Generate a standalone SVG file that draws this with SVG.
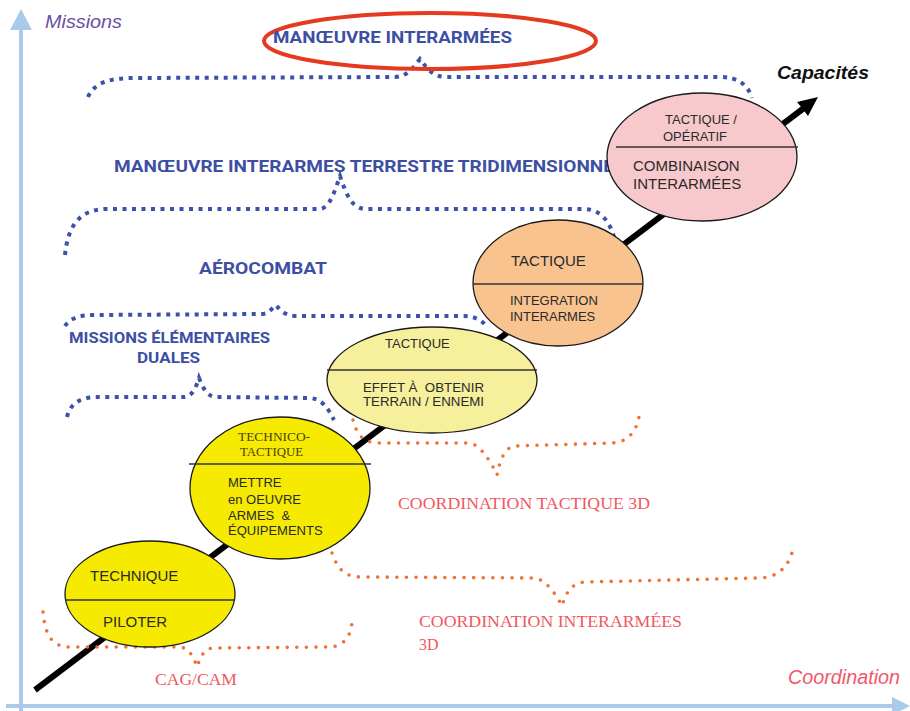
<svg xmlns="http://www.w3.org/2000/svg" width="910" height="711" viewBox="0 0 910 711">
<defs>
<style>
.axis{stroke:#a9cbe9;stroke-width:4;fill:none}
.axhead{fill:#a9cbe9}
.bdot{fill:none;stroke:#3a52a8;stroke-width:4;stroke-dasharray:4 5.5}
.odot{fill:none;stroke:#f07033;stroke-width:3.6;stroke-dasharray:0 9.6;stroke-linecap:round}
.ell{stroke:#1a1a1a;stroke-width:1.3}
.div{stroke:#333;stroke-width:1.5}
.blue{font-family:Roboto,"Liberation Sans",sans-serif;font-weight:bold;fill:#3d4fa3}
.red{font-family:"Liberation Serif",serif;fill:#f0585e}
.in{font-family:"Liberation Sans",Arial,sans-serif;fill:#2a2a2a}
</style>
</defs>
<rect width="910" height="711" fill="#ffffff"/>
<g id="connectors">
  <line class="axis" x1="21" y1="28" x2="21" y2="711"/>
  <polygon class="axhead" points="21,9 10,30 32,30"/>
  <line class="axis" x1="6" y1="706" x2="895" y2="706"/>
  <polygon class="axhead" points="910,706 892,697 892,715"/>
  <line x1="35" y1="690" x2="804" y2="108" stroke="#000" stroke-width="6"/>
  <polygon points="818,97 797,102 802,108 808,116" fill="#000"/>
</g>
<g id="braces">
  <path class="bdot" d="M88 97 C95 82 110 78 135 78 L395 77 C408 76 413 68 420 59 C427 68 432 76 445 77 L720 77 C738 77 748 85 752 98"/>
  <path class="bdot" d="M65 255 C68 225 80 210 105 209 L320 209 C330 208 335 190 340 176 C345 190 350 208 365 209 L585 209 C605 210 614 228 618 255"/>
  <path class="bdot" d="M65 326 C70 318 80 315 95 315 L262 314 C270 313 272 308 276 305 C280 310 284 315 295 316 L462 316 C475 316 482 320 488 328"/>
  <path class="bdot" d="M67 417 C70 405 78 398 95 397 L185 397 C192 396 196 388 199 378 C203 388 207 396 215 397 L310 398 C322 399 328 408 334 420"/>
  <path class="odot" d="M43 612 C45 635 52 647 70 647 L180 647 C188 648 193 655 197 667 C201 655 205 648 214 648 L330 647 C345 646 351 635 352 622"/>
  <path class="odot" d="M332 553 C338 570 345 577 362 577 L535 578 C545 580 555 592 562 606 C566 592 572 583 585 582 L760 578 C780 577 790 565 794 545"/>
  <path class="odot" d="M353 420 C356 432 362 443 378 443 L470 443 C480 445 490 460 497 475 C500 460 505 447 515 446 L612 443 C628 442 636 432 639 417"/>
</g>
<g id="axis-labels">
  <text x="45" y="28" font-family="'Liberation Sans',Arial,sans-serif" font-style="italic" font-size="19" fill="#6a4fa0" textLength="77" lengthAdjust="spacingAndGlyphs">Missions</text>
  <text x="777" y="79" font-family="'Liberation Sans',Arial,sans-serif" font-style="italic" font-weight="bold" font-size="19" fill="#111" textLength="92" lengthAdjust="spacingAndGlyphs">Capacités</text>
  <text x="788" y="684" font-family="'Liberation Sans',Arial,sans-serif" font-style="italic" font-size="19.5" fill="#f0586a" textLength="112" lengthAdjust="spacingAndGlyphs">Coordination</text>
</g>
<g id="mission-labels">
  <g id="m-interarmees">
    <ellipse cx="430" cy="41" rx="166" ry="28" fill="none" stroke="#e53a1f" stroke-width="4"/>
    <text class="blue" x="273" y="43" font-size="17" textLength="239" lengthAdjust="spacingAndGlyphs">MANŒUVRE INTERARMÉES</text>
  </g>
  <text id="m-terrestre" class="blue" x="114" y="172" font-size="17" textLength="500" lengthAdjust="spacingAndGlyphs">MANŒUVRE INTERARMES TERRESTRE TRIDIMENSIONNE</text>
  <text id="m-aerocombat" class="blue" x="199" y="274" font-size="17" textLength="128" lengthAdjust="spacingAndGlyphs">AÉROCOMBAT</text>
  <g id="m-elementaires">
    <text class="blue" x="69" y="343" font-size="15" textLength="201" lengthAdjust="spacingAndGlyphs">MISSIONS ÉLÉMENTAIRES</text>
    <text class="blue" x="137" y="363" font-size="15" textLength="63" lengthAdjust="spacingAndGlyphs">DUALES</text>
  </g>
</g>
<g id="coord-labels">
  <text id="c-cagcam" class="red" x="155" y="685" font-size="16" textLength="82" lengthAdjust="spacingAndGlyphs">CAG/CAM</text>
  <g id="c-interarmees">
    <text class="red" x="419" y="627" font-size="16" textLength="263" lengthAdjust="spacingAndGlyphs">COORDINATION INTERARMÉES</text>
    <text class="red" x="419" y="650" font-size="16">3D</text>
  </g>
  <text id="c-tactique" class="red" x="398" y="509" font-size="16" textLength="252" lengthAdjust="spacingAndGlyphs">COORDINATION TACTIQUE 3D</text>
</g>
<g id="n1">
  <ellipse class="ell" cx="150" cy="594" rx="85" ry="53" fill="#f5ea00"/>
  <line class="div" x1="65" y1="600" x2="235" y2="600"/>
  <text class="in" x="90" y="581" font-size="15">TECHNIQUE</text>
  <text class="in" x="103" y="627" font-size="15">PILOTER</text>
</g>
<g id="n2">
  <ellipse class="ell" cx="280" cy="488" rx="90" ry="71" fill="#f5ea00"/>
  <line class="div" x1="189" y1="464" x2="371" y2="464" stroke="#555" stroke-width="2"/>
  <text x="238" y="441" font-family="'Liberation Serif',serif" font-size="12" fill="#4a4010" textLength="72" lengthAdjust="spacingAndGlyphs">TECHNICO-</text>
  <text x="240" y="456" font-family="'Liberation Serif',serif" font-size="12" fill="#4a4010" textLength="63" lengthAdjust="spacingAndGlyphs">TACTIQUE</text>
  <text class="in" x="228" y="487" font-size="13">METTRE</text>
  <text class="in" x="228" y="504" font-size="13">en OEUVRE</text>
  <text class="in" x="228" y="520" font-size="13" xml:space="preserve">ARMES  &amp;</text>
  <text class="in" x="228" y="535" font-size="13">ÉQUIPEMENTS</text>
</g>
<g id="n3">
  <ellipse class="ell" cx="432" cy="380" rx="105" ry="53" fill="#f6ef9c"/>
  <line class="div" x1="327" y1="370" x2="537" y2="370" stroke="#555" stroke-width="2"/>
  <text class="in" x="385" y="348" font-size="13">TACTIQUE</text>
  <text class="in" x="363" y="392" font-size="13" xml:space="preserve" textLength="121" lengthAdjust="spacingAndGlyphs">EFFET À  OBTENIR</text>
  <text class="in" x="363" y="406" font-size="13" textLength="121" lengthAdjust="spacingAndGlyphs">TERRAIN / ENNEMI</text>
</g>
<g id="n4">
  <ellipse class="ell" cx="558" cy="283" rx="85" ry="63" fill="#f9c38f"/>
  <line class="div" x1="473" y1="284" x2="643" y2="284"/>
  <text class="in" x="511" y="266" font-size="15">TACTIQUE</text>
  <text class="in" x="510" y="305" font-size="13">INTEGRATION</text>
  <text class="in" x="510" y="321" font-size="13">INTERARMES</text>
</g>
<g id="n5">
  <ellipse class="ell" cx="702" cy="157" rx="95" ry="64" fill="#f7c9cc"/>
  <line class="div" x1="616" y1="147" x2="798" y2="147"/>
  <text class="in" x="701" y="124" font-size="13" text-anchor="middle" fill="#4a3040">TACTIQUE /</text>
  <text class="in" x="663" y="141" font-size="13" fill="#4a3040">OPÉRATIF</text>
  <text class="in" x="633" y="171" font-size="15" fill="#2a2a40">COMBINAISON</text>
  <text class="in" x="633" y="189" font-size="15" fill="#2a2a40">INTERARMÉES</text>
</g>
</svg>
